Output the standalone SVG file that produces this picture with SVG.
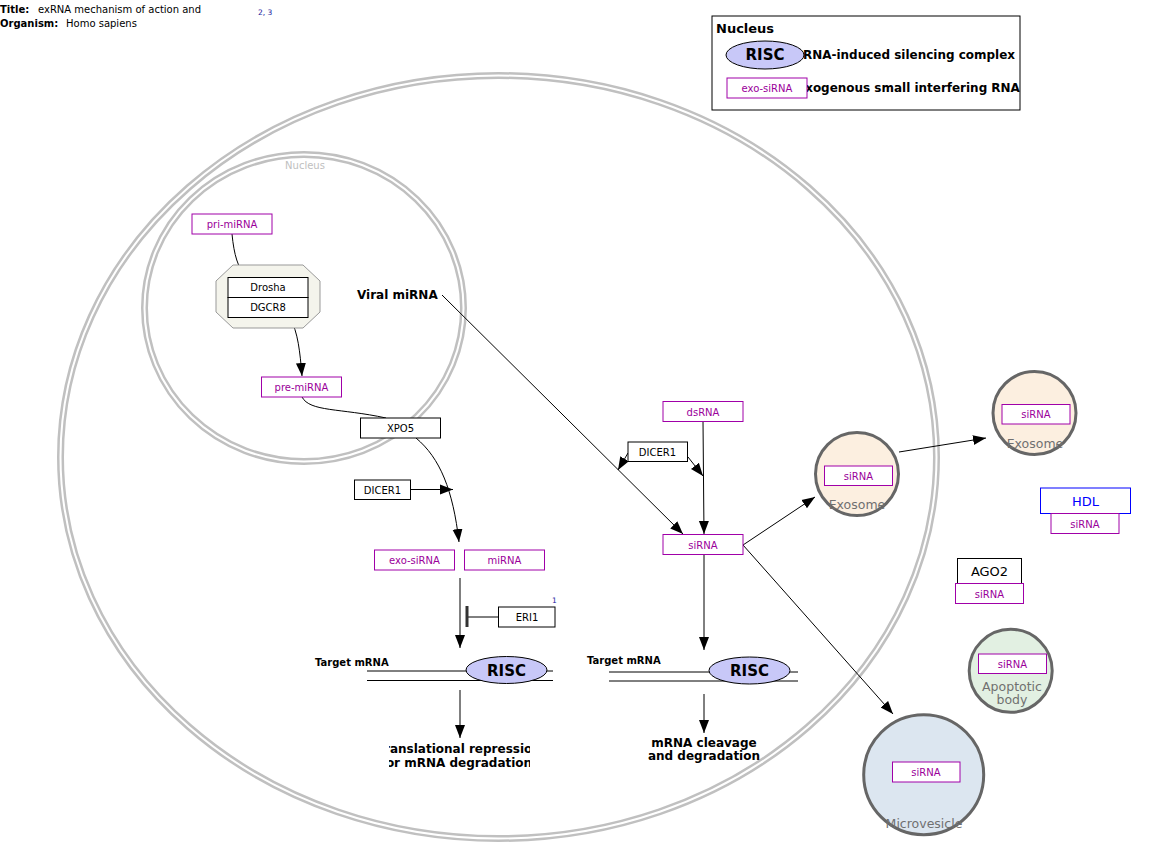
<svg xmlns="http://www.w3.org/2000/svg" width="1152" height="859" viewBox="0 0 1152 859">
<style>
text{font-family:"DejaVu Sans","Liberation Sans",sans-serif}
.gp{fill:#fff;stroke:#000;stroke-width:1}
.rna{fill:#fff;stroke:#a000a8;stroke-width:1}
.rt{fill:#9a009a;font-size:10px;text-anchor:middle}
.gt{fill:#000;font-size:10px;text-anchor:middle}
.memA{fill:none;stroke:#c0c0c0;stroke-width:7}
.memB{fill:none;stroke:#fff;stroke-width:2}
.ln{fill:none;stroke:#000;stroke-width:1}
.arr{fill:none;stroke:#000;stroke-width:1;marker-end:url(#ah)}
.ves{stroke:#666;stroke-width:3}
.vl{fill:#707070;font-size:12.5px;text-anchor:middle}
.risc{fill:#c8c8f8;stroke:#000;stroke-width:1}
.rl{font-size:15px;font-weight:bold;text-anchor:middle}
.bl{font-size:12px;font-weight:bold}
</style>
<defs>
<marker id="ah" markerUnits="userSpaceOnUse" markerWidth="14" markerHeight="12" refX="13" refY="5" orient="auto" viewBox="0 0 14 10">
<path d="M0,0 L13,5 L0,10 z" fill="#000"/>
</marker>
<clipPath id="legclip"><rect x="712" y="16" width="308" height="94"/></clipPath>
<clipPath id="trclip"><rect x="389" y="738" width="141" height="40"/></clipPath>
</defs>
<rect width="1152" height="859" fill="#fff"/>

<g id="title">
<text x="0" y="13" font-size="10" font-weight="bold">Title:</text>
<text x="38" y="13" font-size="10">exRNA mechanism of action and</text>
<text x="258" y="15" font-size="7.5" fill="#1a1aa0">2, 3</text>
<text x="0" y="27" font-size="10" font-weight="bold">Organism:</text>
<text x="66" y="27" font-size="10">Homo sapiens</text>
</g>

<g id="cell">
<ellipse class="memA" cx="498.5" cy="457" rx="438" ry="381.5"/>
<ellipse class="memB" cx="498.5" cy="457" rx="438" ry="381.5"/>
</g>
<g id="nucleus">
<ellipse class="memA" cx="304" cy="308" rx="159.5" ry="153.5"/>
<ellipse class="memB" cx="304" cy="308" rx="159.5" ry="153.5"/>
<text x="305" y="169" font-size="10" fill="#c0c0c0" text-anchor="middle">Nucleus</text>
</g>

<g id="legend">
<rect x="712" y="16" width="308" height="94" fill="#fff" stroke="#000"/>
<g clip-path="url(#legclip)">
<text x="716" y="33" font-size="13" font-weight="bold">Nucleus</text>
<text x="803" y="59" font-size="12.5" font-weight="bold" textLength="212" lengthAdjust="spacingAndGlyphs">RNA-induced silencing complex</text>
<text x="797" y="92" font-size="12.5" font-weight="bold" textLength="230" lengthAdjust="spacingAndGlyphs">Exogenous small interfering RNAs</text>
</g>
<ellipse class="risc" cx="765" cy="55" rx="39" ry="14"/>
<text class="rl" x="765" y="60">RISC</text>
<rect class="rna" x="727" y="78" width="80" height="20"/>
<text class="rt" x="767" y="92">exo-siRNA</text>
</g>

<g id="connectors">
<path class="ln" d="M232,234 C234,255 238,268 246,277"/>
<path class="ln" d="M216,297.5 L228,297"/>
<path class="arr" d="M290,318 C298,332 300,352 302,376"/>
<path class="ln" d="M302,397 C310,412 340,408 386,418"/>
<path class="arr" d="M416,438 C440,458 453,490 459,542"/>
<path class="arr" d="M410,489.5 L453,489.5"/>
<path class="arr" d="M460,578 L460,648"/>
<path class="ln" d="M498,617 L467,617"/>
<path d="M467,606 L467,627" stroke="#333" stroke-width="3"/>
<path class="arr" d="M460,690 L460,738"/>
<path class="arr" d="M442,295 L683,534"/>
<path class="arr" d="M703,421 L704,534"/>
<path class="arr" d="M628,453 L618,470"/>
<path class="arr" d="M688,457 L703,476"/>
<path class="arr" d="M704,555 L704,650"/>
<path class="arr" d="M704,694 L704,733"/>
<path class="arr" d="M743,545 L815,497"/>
<path class="arr" d="M743,545 L893,714"/>
<path class="arr" d="M899,452 L986,438"/>
</g>

<g id="complex">
<path d="M233,265 L303,265 L320,281 L320,312 L303,328 L233,328 L216,312 L216,281 z" fill="#f4f4ec" stroke="#999"/>
</g>
<g id="pri-miRNA"><rect class="rna" x="192" y="214" width="80" height="20"/><text class="rt" x="232" y="228">pri-miRNA</text></g>
<g id="Drosha"><rect class="gp" x="228" y="277.5" width="80" height="20"/><text class="gt" x="268" y="291">Drosha</text></g>
<g id="DGCR8"><rect class="gp" x="228" y="297.5" width="80" height="20"/><text class="gt" x="268" y="311">DGCR8</text></g>
<g id="pre-miRNA"><rect class="rna" x="261.5" y="377" width="80" height="20"/><text class="rt" x="301.5" y="391">pre-miRNA</text></g>
<g id="XPO5"><rect class="gp" x="360.5" y="418" width="80" height="20"/><text class="gt" x="400.5" y="432">XPO5</text></g>
<g id="DICER1-a"><rect class="gp" x="354.5" y="480" width="56" height="19.5"/><text class="gt" x="382.5" y="493.5">DICER1</text></g>
<g id="exo-siRNA"><rect class="rna" x="374.5" y="550" width="80" height="20"/><text class="rt" x="414.5" y="564">exo-siRNA</text></g>
<g id="miRNA"><rect class="rna" x="464.5" y="550" width="80" height="20"/><text class="rt" x="504.5" y="564">miRNA</text></g>
<g id="ERI1"><rect class="gp" x="498.5" y="607" width="56.5" height="20"/><text class="gt" x="527" y="621">ERI1</text><text x="552" y="603" font-size="7.5" fill="#1a1aa0">1</text></g>

<g id="mrna1">
<text x="315" y="666" font-size="10" font-weight="bold">Target mRNA</text>
<path class="ln" d="M367,671 L553,671 M367,680.5 L553,680.5"/>
<ellipse class="risc" cx="506.5" cy="670" rx="40.5" ry="13.5"/>
<text class="rl" x="506.5" y="675.5">RISC</text>
</g>
<g id="outcome1" clip-path="url(#trclip)">
<text class="bl" x="459" y="753" text-anchor="middle">Translational repression</text>
<text class="bl" x="459" y="767" text-anchor="middle">or mRNA degradation</text>
</g>

<g id="viral"><text class="bl" x="357" y="299">Viral miRNA</text></g>
<g id="dsRNA"><rect class="rna" x="663" y="401.5" width="80" height="20"/><text class="rt" x="703" y="415.5">dsRNA</text></g>
<g id="DICER1-b"><rect class="gp" x="628" y="442" width="59.5" height="19.5"/><text class="gt" x="657.5" y="455.5">DICER1</text></g>
<g id="siRNA-c"><rect class="rna" x="663" y="534.5" width="80" height="20"/><text class="rt" x="703" y="548.5">siRNA</text></g>

<g id="mrna2">
<text x="587" y="664" font-size="10" font-weight="bold">Target mRNA</text>
<path class="ln" d="M609,672 L798,672 M609,681 L798,681"/>
<ellipse class="risc" cx="749.5" cy="670.5" rx="40.5" ry="13.5"/>
<text class="rl" x="749.5" y="676">RISC</text>
</g>
<g id="outcome2">
<text class="bl" x="704" y="747" text-anchor="middle">mRNA cleavage</text>
<text class="bl" x="704" y="760" text-anchor="middle">and degradation</text>
</g>

<g id="exosome1">
<circle class="ves" cx="857" cy="474" r="41.5" fill="#fcefe0"/>
<rect class="rna" x="824.5" y="466" width="68" height="19.5"/><text class="rt" x="858.5" y="479.5">siRNA</text>
<text class="vl" x="857" y="509">Exosome</text>
</g>
<g id="exosome2">
<circle class="ves" cx="1034.5" cy="413" r="41.5" fill="#fcefe0"/>
<rect class="rna" x="1002" y="404.5" width="68" height="19.5"/><text class="rt" x="1036" y="418">siRNA</text>
<text class="vl" x="1035" y="448">Exosome</text>
</g>
<g id="HDL">
<rect x="1040.5" y="488" width="90" height="25.5" fill="#fff" stroke="#0000ff"/>
<text x="1085.5" y="505.5" font-size="13" fill="#0000ff" text-anchor="middle">HDL</text>
<rect class="rna" x="1051" y="513.5" width="68" height="20"/><text class="rt" x="1085" y="527.5">siRNA</text>
</g>
<g id="AGO2">
<rect class="gp" x="957.5" y="558.5" width="64" height="25"/>
<text x="989.5" y="576" font-size="13" text-anchor="middle">AGO2</text>
<rect class="rna" x="955.5" y="583.5" width="68" height="20"/><text class="rt" x="989.5" y="597.5">siRNA</text>
</g>
<g id="apoptotic">
<circle class="ves" cx="1010.7" cy="670.8" r="41.5" fill="#e2f0e2"/>
<rect class="rna" x="978.5" y="654" width="68" height="19.5"/><text class="rt" x="1012.5" y="667.5">siRNA</text>
<text class="vl" x="1012" y="691">Apoptotic</text>
<text class="vl" x="1012" y="704">body</text>
</g>
<g id="microvesicle">
<circle class="ves" cx="923.7" cy="774.7" r="60" fill="#dce6f0"/>
<rect class="rna" x="892.5" y="762" width="67.5" height="20"/><text class="rt" x="926" y="776">siRNA</text>
<text class="vl" x="924" y="828">Microvesicle</text>
</g>
</svg>
